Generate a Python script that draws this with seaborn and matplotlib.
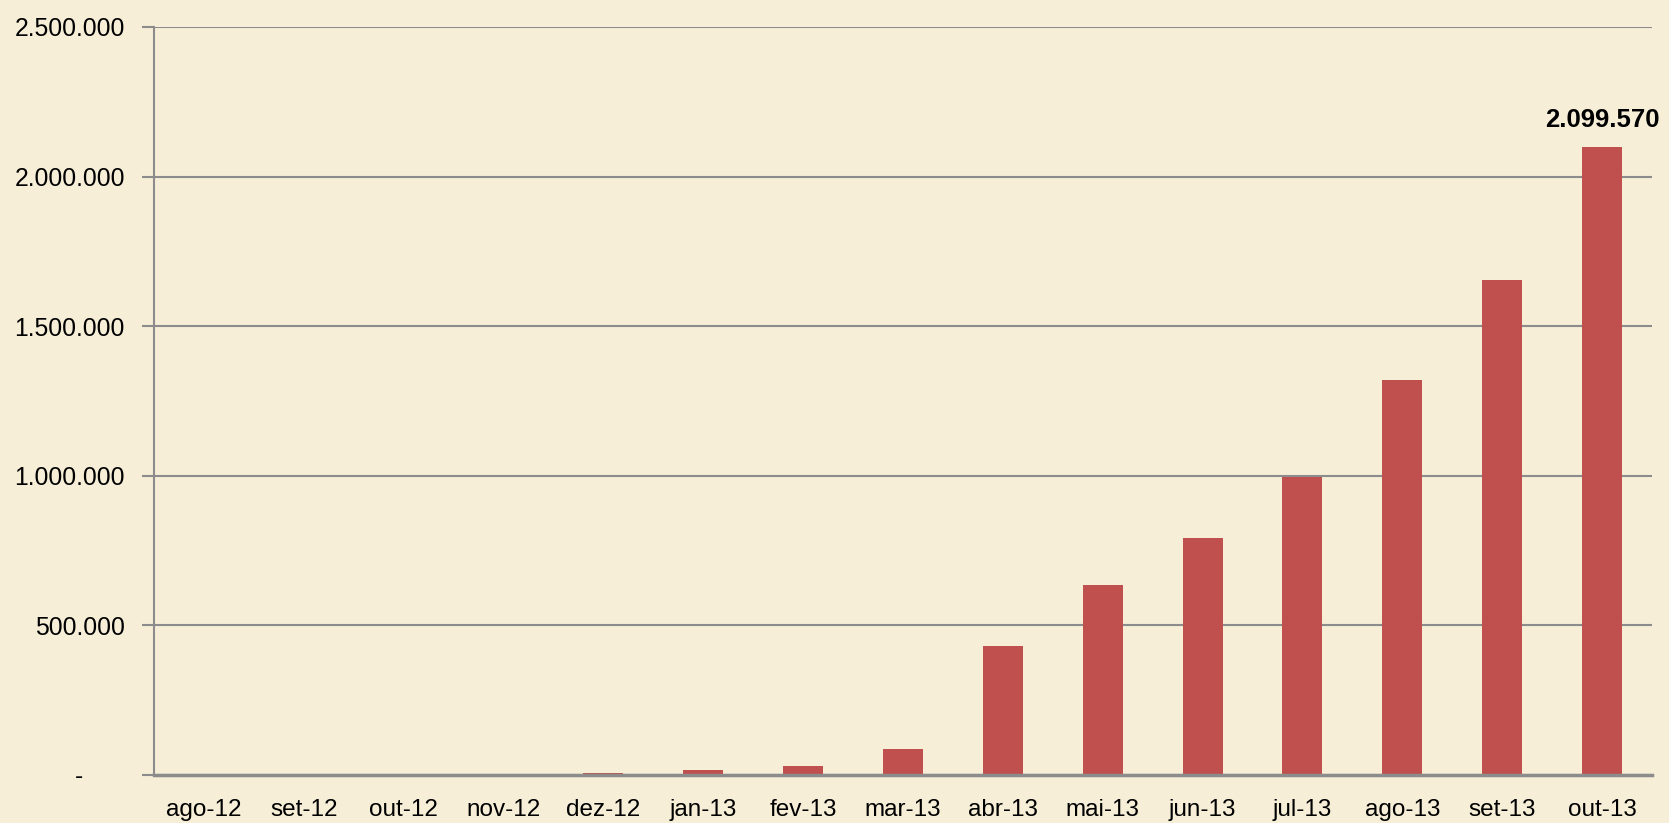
import pandas as pd
import matplotlib
matplotlib.use('Agg')
import matplotlib.pyplot as plt
import seaborn as sns

# dados
meses = ['ago-12', 'set-12', 'out-12', 'nov-12', 'dez-12', 'jan-13', 'fev-13', 'mar-13',
         'abr-13', 'mai-13', 'jun-13', 'jul-13', 'ago-13', 'set-13', 'out-13']
valores = [0, 0, 0, 4000, 8000, 17000, 30000, 88000,
           430000, 636000, 793000, 996000, 1319000, 1654000, 2099570]
yticks = [0, 500000, 1000000, 1500000, 2000000, 2500000]
ytick_labels = ['-      ', '500.000', '1.000.000', '1.500.000', '2.000.000', '2.500.000']

df = pd.DataFrame({'mes': meses, 'valor': valores})

sns.set_theme(style='white')
plt.rcParams['font.family'] = ['Liberation Sans', 'DejaVu Sans']

fundo = '#F6EED7'
cinza = '#8C8C8C'

fig = plt.figure(figsize=(16.69, 8.23), dpi=100, facecolor=fundo)
ax = fig.add_axes([154 / 1669, 1 - 775 / 823, (1652 - 154) / 1669, (775 - 27) / 823])
ax.set_facecolor(fundo)

sns.barplot(data=df, x='mes', y='valor', color='#C0504D', width=0.4,
            saturation=1, edgecolor='none', linewidth=0, ax=ax, zorder=3)

ax.set_xlim(-0.5, len(meses) - 0.5)
ax.set_ylim(0, 2500000)
ax.set_xlabel('')
ax.set_ylabel('')

# grade horizontal
ax.set_yticks(yticks)
ax.set_yticklabels(ytick_labels, fontsize=17.8, color='black')
ax.yaxis.grid(True, color=cinza, linewidth=1.5, zorder=0)
ax.xaxis.grid(False)

# rótulos do eixo x, ticks nas divisões
ax.set_xticks(range(len(meses)))
ax.set_xticklabels(meses, fontsize=17.5, color='black')
ax.set_xticks([i - 0.5 for i in range(len(meses) + 1)], minor=True)
ax.tick_params(axis='x', which='major', length=0, pad=17)
ax.tick_params(axis='x', which='minor', length=8, width=1.5, color=cinza, direction='out')
ax.tick_params(axis='y', which='major', length=9, width=1.5, color=cinza, pad=12, direction='out', left=True)

for s in ['top', 'right']:
    ax.spines[s].set_visible(False)
ax.spines['left'].set_color(cinza)
ax.spines['left'].set_linewidth(1.5)
ax.spines['bottom'].set_color(cinza)
ax.spines['bottom'].set_linewidth(2.5)
ax.spines['bottom'].set_zorder(4)

# rótulo do último valor
ultimo = valores[-1]
rotulo = f'{ultimo:,}'.replace(',', '.')
ax.annotate(rotulo, xy=(len(meses) - 1, ultimo), xytext=(0, 11), textcoords='offset points',
            ha='center', va='bottom', fontsize=18.5, fontweight='bold', color='black')

fig.savefig('out.png', dpi=100, facecolor=fundo)
